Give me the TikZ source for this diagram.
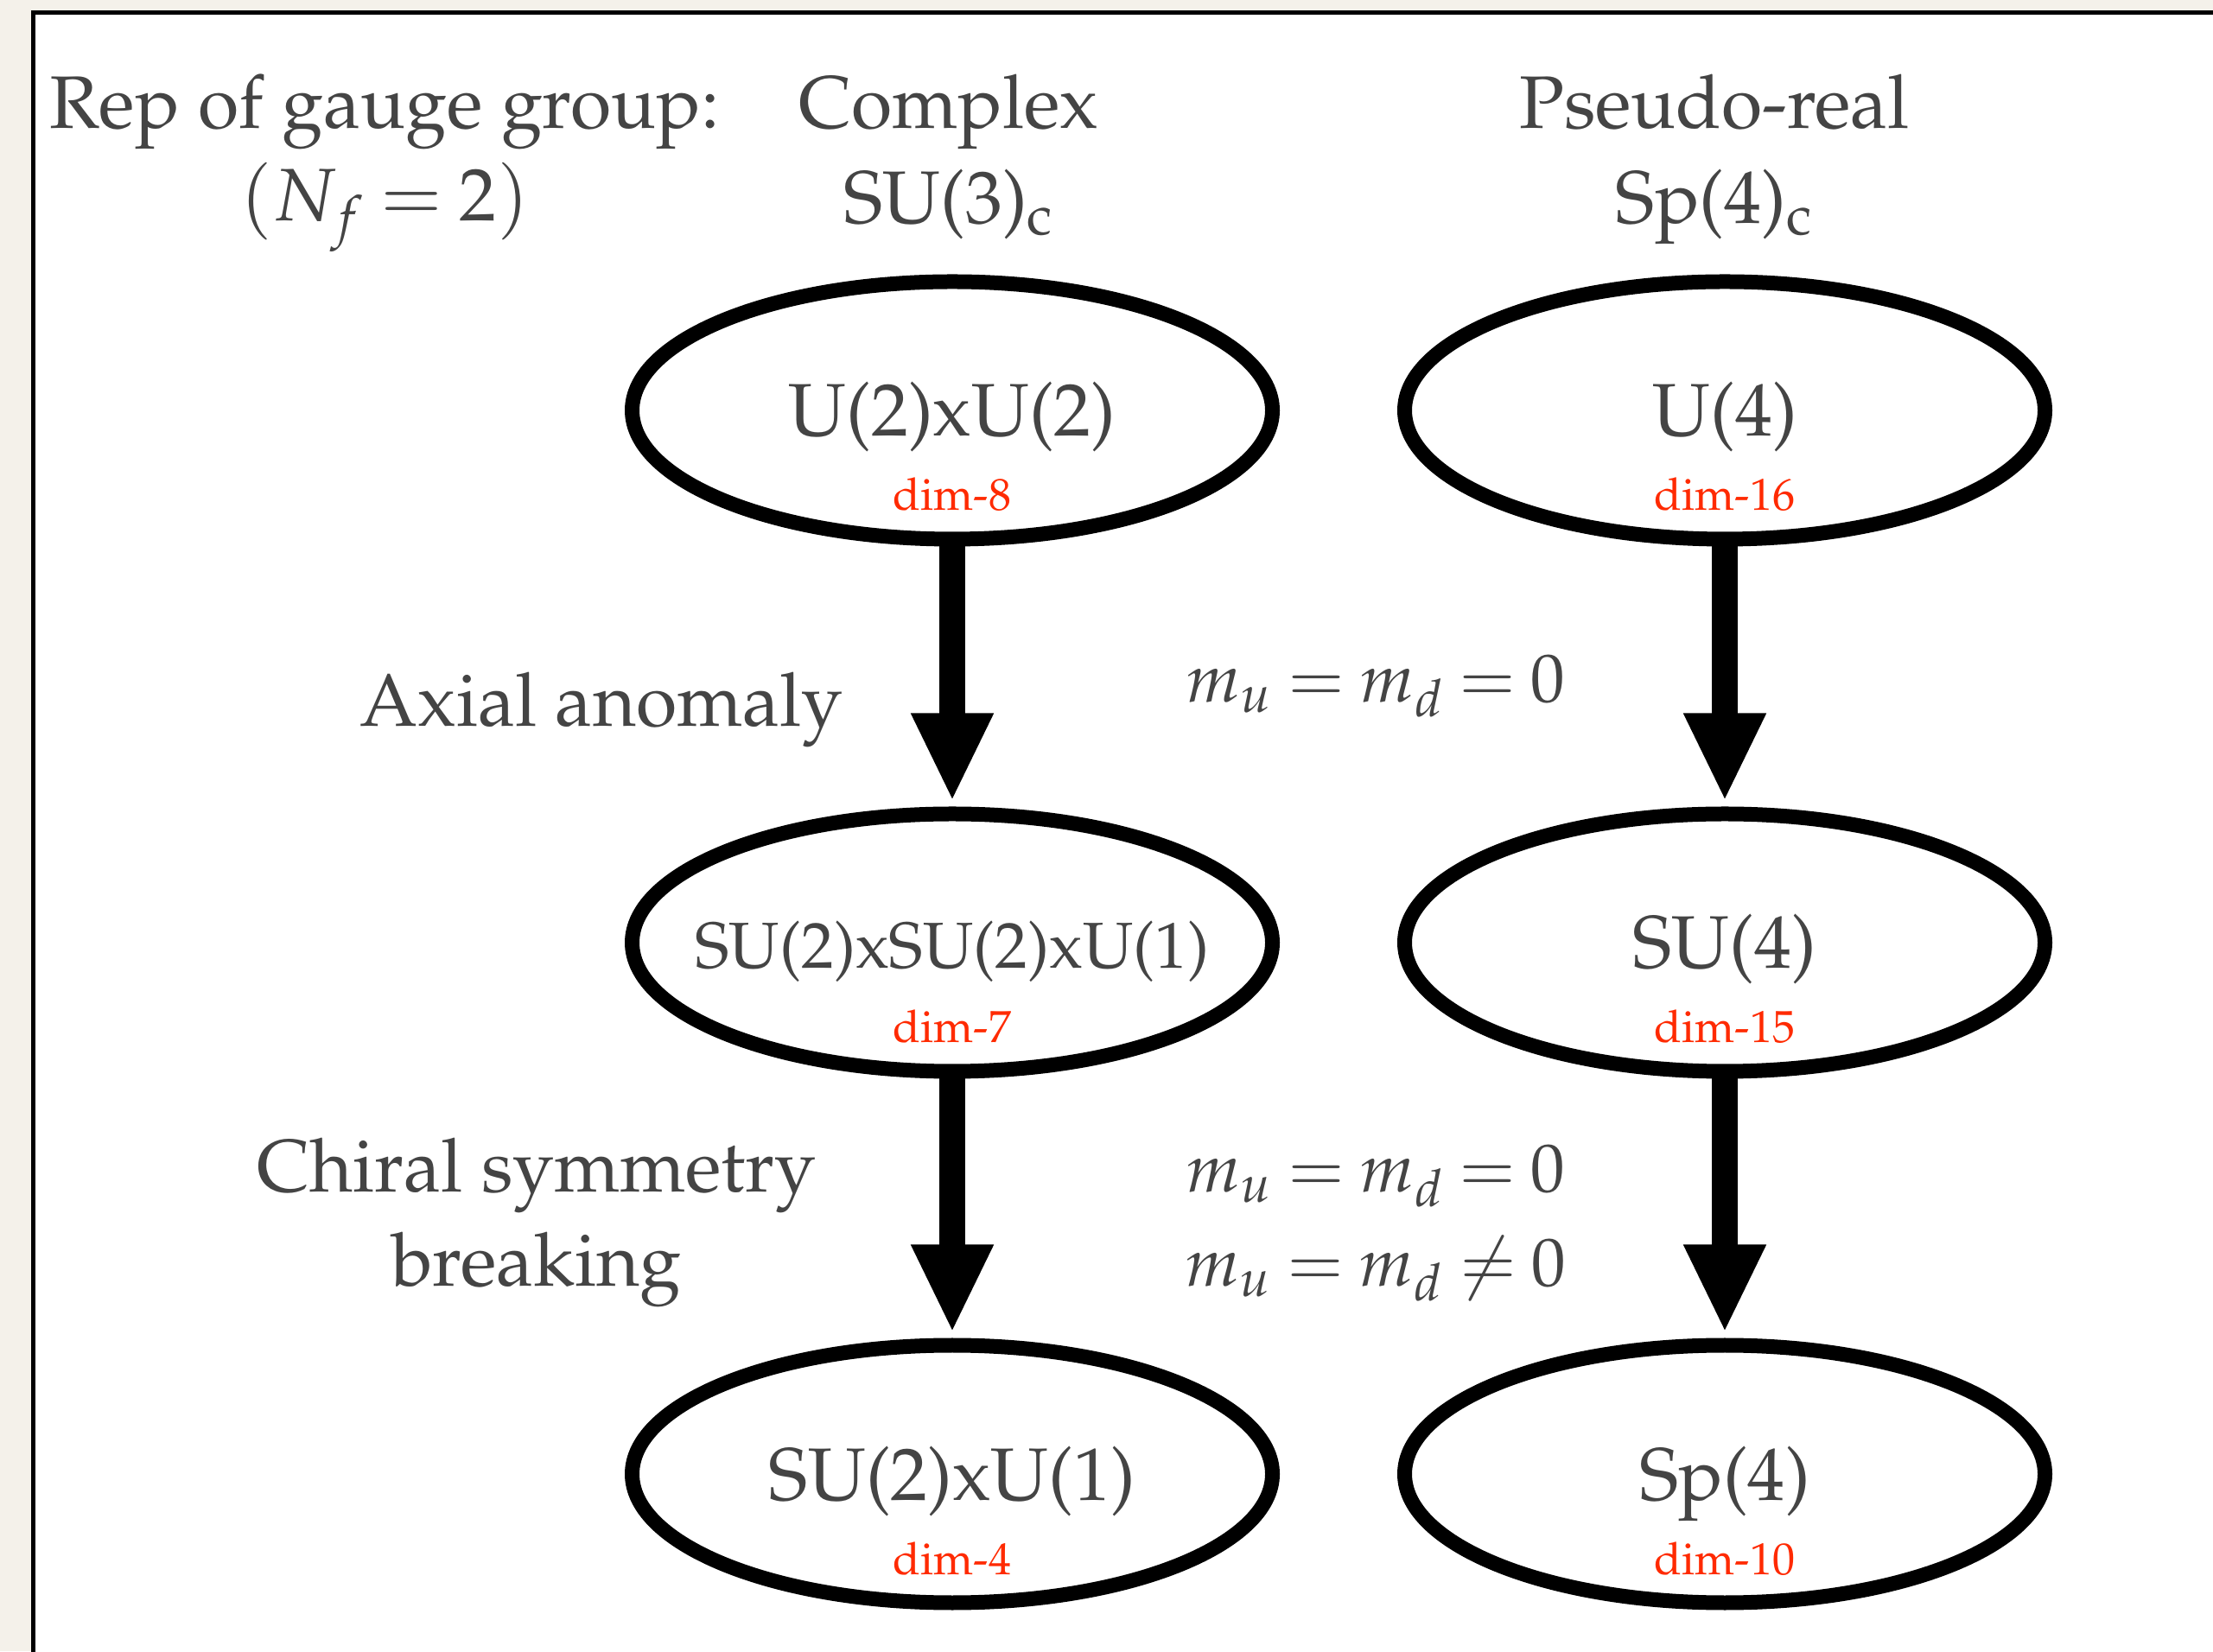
\documentclass[tikz,border=0pt]{standalone}
\usepackage[T1]{fontenc}
\usepackage{mathpazo}
\usetikzlibrary{shapes.geometric, arrows.meta, positioning}

\definecolor{paper}{HTML}{F4F1EA}
\definecolor{ink}{HTML}{444444}
\definecolor{dimred}{HTML}{FF2A00}
\thickmuskip=4mu plus 2mu

\tikzset{
  grp/.style={ellipse, draw=black, line width=0.17cm, minimum width=7.41cm, minimum height=2.98cm,
    inner xsep=-0.5cm, inner ysep=0pt, text=ink, font=\fontsize{24.5}{29}\selectfont,
    text height=0.6cm, text depth=0pt},
  dimtext/.style={anchor=base, inner sep=0pt, text=dimred, font=\fontsize{14.8}{18}\selectfont},
  lbl/.style={anchor=base, inner sep=0pt, text=ink, font=\fontsize{24.5}{29}\selectfont},
  masslbl/.style={lbl, font=\fontsize{22.5}{27}\selectfont},
  flow/.style={line width=0.30cm, -{Triangle[width=0.88cm, length=1.02cm]}, shorten >=0.06cm}
}

\begin{document}
\begin{tikzpicture}
\useasboundingbox (0,0) rectangle (25.61,19.11);
\fill [paper] (0,0) rectangle (25.61,19.11);
\filldraw [fill=white, draw=black, line width=0.055cm] (0.385,-1) rectangle (27,18.965);

% headers
\node [lbl] (rep) at (4.45,17.62) {Rep of gauge group:};
\node [lbl] (nf) at (4.45,16.55) {$(N_f = 2)$};
\node [lbl] (cplx) at (10.98,17.62) {Complex};
\node [lbl] (su3) at (10.98,16.52) {SU(3)$_\mathrm{c}$};
\node [lbl] (preal) at (19.84,17.62) {Pseudo-real};
\node [lbl] (sp4c) at (19.84,16.52) {Sp(4)$_\mathrm{c}$};

% complex column
\node [grp] (u2u2) at (11.02,14.36) {U(2)xU(2)};
\node [grp, font=\fontsize{21.4}{26}\selectfont] (su2su2u1) at (11.02,8.20) {SU(2)xSU(2)xU(1)};
\node [grp] (su2u1) at (11.02,2.05) {SU(2)xU(1)};
\node [dimtext] (dim8) at ([yshift=-1.16cm]u2u2.center) {dim-8};
\node [dimtext] (dim7) at ([yshift=-1.16cm]su2su2u1.center) {dim-7};
\node [dimtext] (dim4) at ([yshift=-1.16cm]su2u1.center) {dim-4};

% pseudo-real column
\node [grp] (u4) at (19.96,14.36) {U(4)};
\node [grp] (su4) at (19.96,8.20) {SU(4)};
\node [grp] (sp4) at (19.96,2.05) {Sp(4)};
\node [dimtext] (dim16) at ([yshift=-1.16cm]u4.center) {dim-16};
\node [dimtext] (dim15) at ([yshift=-1.16cm]su4.center) {dim-15};
\node [dimtext] (dim10) at ([yshift=-1.16cm]sp4.center) {dim-10};

\draw [flow] (u2u2.south) -- (su2su2u1.north);
\draw [flow] (su2su2u1.south) -- (su2u1.north);
\draw [flow] (u4.south) -- (su4.north);
\draw [flow] (su4.south) -- (sp4.north);

% side labels
\node [lbl] (axial) at (6.96,10.70) {Axial anomaly};
\node [lbl] (chiral) at (6.21,5.31) {Chiral symmetry};
\node [lbl] (brk) at (6.21,4.22) {breaking};
\node [masslbl] (mass1) at (15.92,10.98) {$m_u = m_d = 0$};
\node [masslbl] (mass2) at (15.92,5.31) {$m_u = m_d = 0$};
\node [masslbl] (mass3) at (15.92,4.22) {$m_u = m_d \neq 0$};
\end{tikzpicture}
\end{document}
